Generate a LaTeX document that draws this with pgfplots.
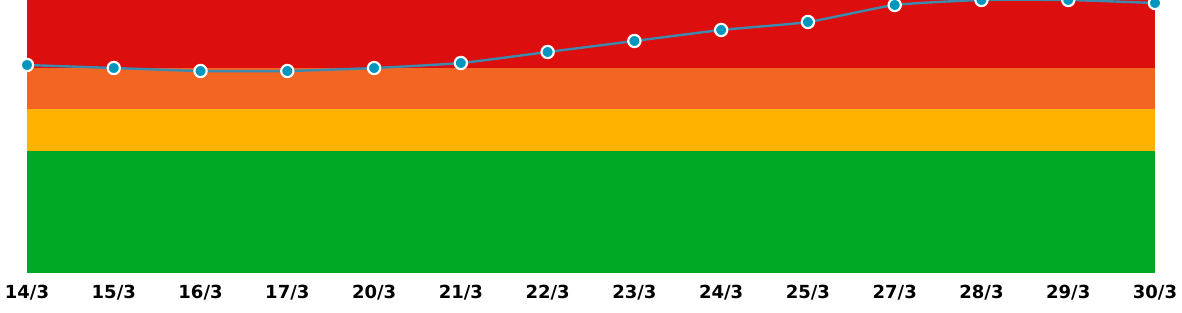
\documentclass[border=0pt]{standalone}
\usepackage{pgfplots}
\pgfplotsset{compat=1.18}
\usepackage{fontspec}
\setmainfont{DejaVu Sans}
\definecolor{cred}{HTML}{DD0E0E}
\definecolor{corange}{HTML}{F26522}
\definecolor{cyellow}{HTML}{FFB300}
\definecolor{cgreen}{HTML}{00A924}
\definecolor{cline}{HTML}{3D8AAE}
\definecolor{cmark}{HTML}{0096BE}
\begin{document}
\begin{tikzpicture}
\begin{axis}[
  at={(0,0)}, anchor=south west,
  scale only axis,
  width=846pt, height=204.75pt,
  xmin=0, xmax=13, ymin=0, ymax=273,
  axis line style={draw=none},
  ytick=\empty,
  xtick={0,...,13},
  xticklabels={14/3,15/3,16/3,17/3,20/3,21/3,22/3,23/3,24/3,25/3,27/3,28/3,29/3,30/3},
  major tick length=0pt,
  xticklabel style={font=\fontsize{13.5}{16}\selectfont\bfseries, yshift=-5.5pt},
  clip=true,
]
\addplot[draw=none, fill=cgreen] coordinates {(0,0) (13,0) (13,122) (0,122)} -- cycle;
\addplot[draw=none, fill=cyellow] coordinates {(0,122) (13,122) (13,164) (0,164)} -- cycle;
\addplot[draw=none, fill=corange] coordinates {(0,164) (13,164) (13,205) (0,205)} -- cycle;
\addplot[draw=none, fill=cred] coordinates {(0,205) (13,205) (13,273) (0,273)} -- cycle;
\addplot[color=cline, line width=1.8pt, smooth, tension=0.3, mark=*, mark size=4.6pt,
  mark options={fill=cmark, draw=white, line width=1.6pt}]
  coordinates {(0,208) (1,205) (2,202) (3,202) (4,205) (5,210) (6,221) (7,232) (8,243) (9,251) (10,268) (11,273) (12,273) (13,270)};
\end{axis}
\pgfresetboundingbox
\path (-20.25pt,-29.25pt) rectangle (866.25pt,204.75pt);
\end{tikzpicture}
\end{document}
